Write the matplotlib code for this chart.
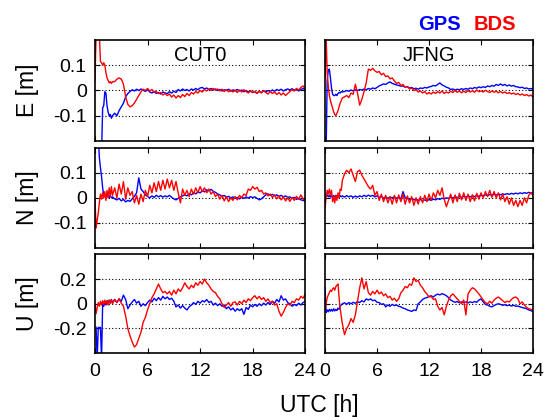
# GPS vs BDS position error time series, two stations
import numpy as np
import matplotlib
matplotlib.use("Agg")
import matplotlib.pyplot as plt

plt.rcParams['font.family'] = ['Liberation Sans', 'DejaVu Sans']

nan = np.nan

# time axis [h]: finer in the first two hours, then every 15 min
t_head = np.arange(0, 2.0001, 0.125)
t_body = np.arange(2.25, 24.0001, 0.25)
utc = np.concatenate([t_head, t_body])

stations = ['CUT0', 'JFNG']
components = ['E [m]', 'N [m]', 'U [m]']
ylims = [0.2, 0.2, 0.4]
yticks = [[-0.1, 0, 0.1], [-0.1, 0, 0.1], [-0.2, 0, 0.2]]
yticklabels = [['-0.1', '0', '0.1'], ['-0.1', '0', '0.1'], ['-0.2', '0', '0.2']]
xticks = [0, 6, 12, 18, 24]

# ---- CUT0 ----
cut0_e_gps = [nan, nan, nan, nan, nan, nan, -0.25, -0.07, -0.06, -0.005, -0.01, -0.06, -0.085, -0.1, -0.095, -0.11, -0.1,
              -0.09, -0.1, -0.08, -0.065, -0.05, -0.025, -0.012, -0.004,
              0.003, -0.002, 0.005, 0.0, 0.006, 0.002, -0.004, 0.003,
              -0.006, -0.01, -0.004, -0.012, -0.008, -0.014, -0.006, -0.01,
              -0.012, -0.005, -0.01, -0.003, -0.008, 0.004, -0.002, 0.006,
              0.0, 0.004, -0.002, 0.006, 0.002, 0.008, 0.003, 0.01,
              0.012, 0.006, 0.01, 0.004, 0.008, 0.002, 0.006, 0.0,
              0.004, -0.002, 0.003, 0.0, 0.005, -0.003, 0.002, 0.0,
              0.004, -0.002, 0.002, -0.005, 0.0, -0.006, -0.003, -0.008,
              -0.005, -0.01, -0.004, -0.008, -0.002, -0.006, 0.0, -0.004,
              0.002, -0.003, 0.004, 0.0, 0.005, -0.002, 0.003, 0.006,
              0.002, 0.007, 0.001, 0.005, -0.002, 0.004, 0.008, 0.003]
cut0_e_bds = [0.04, 0.22, 0.22, 0.22, 0.22, 0.115, 0.11, 0.1, 0.11, 0.1, 0.07, 0.05, 0.04, 0.03, 0.035, 0.028, 0.035,
              0.035, 0.045, 0.05, 0.045, 0.025, -0.025, -0.055, -0.065,
              -0.06, -0.05, -0.035, -0.02, -0.005, 0.005, 0.0, 0.008,
              -0.002, 0.004, -0.008, -0.004, -0.012, -0.008, -0.018, -0.012,
              -0.02, -0.014, -0.026, -0.018, -0.03, -0.02, -0.028, -0.016,
              -0.024, -0.012, -0.02, -0.008, -0.014, -0.004, -0.01, 0.0,
              -0.006, 0.004, -0.002, 0.006, 0.0, 0.008, 0.002, 0.006,
              -0.002, 0.005, -0.004, 0.003, -0.005, 0.002, -0.006, 0.0,
              -0.008, 0.002, -0.006, 0.003, -0.004, -0.01, 0.0, -0.008,
              -0.004, -0.012, -0.002, -0.01, 0.0, -0.008, -0.014, -0.004,
              -0.012, -0.006, -0.016, -0.008, -0.018, -0.01, -0.02, -0.012,
              -0.004, 0.004, -0.002, 0.008, 0.002, 0.012, 0.018, 0.006]
cut0_n_gps = [nan, 0.25, 0.25, 0.25, 0.16, 0.12, 0.085, 0.04, 0.012, 0.008, 0.012, 0.004, 0.01, 0.002, 0.008, 0.0, 0.004,
              -0.004, -0.008, -0.002, -0.012, -0.006, -0.016, -0.01, -0.014,
              -0.004, 0.006, 0.02, 0.08, 0.035, 0.025, 0.012, 0.006,
              0.0, 0.008, 0.002, 0.01, 0.004, 0.009, 0.003, 0.008,
              0.004, 0.01, 0.002, -0.004, -0.008, -0.002, 0.004, 0.008,
              0.012, 0.008, 0.016, 0.012, 0.02, 0.016, 0.024, 0.02,
              0.028, 0.024, 0.032, 0.028, 0.034, 0.026, 0.022, 0.016,
              0.012, 0.006, 0.01, 0.003, 0.006, 0.0, 0.004, -0.002,
              0.002, -0.004, 0.003, -0.002, 0.004, -0.001, 0.005, 0.001,
              0.004, -0.002, -0.008, -0.004, 0.004, 0.012, 0.016, 0.01,
              0.014, 0.008, 0.012, 0.006, 0.01, 0.004, 0.008, 0.002,
              0.004, -0.002, 0.002, -0.006, -0.002, -0.008, -0.01, -0.014]
cut0_n_bds = [0.0, -0.12, -0.09, -0.06, -0.02, 0.015, -0.005, 0.02, 0.0, 0.025, -0.01, 0.03, 0.0, 0.04, 0.005, 0.045, 0.01,
              0.04, 0.0, 0.055, 0.015, 0.065, -0.005, 0.04, 0.01,
              0.025, -0.02, 0.01, -0.025, 0.015, -0.015, 0.03, 0.005,
              0.05, 0.02, 0.06, 0.025, 0.065, 0.03, 0.07, 0.035,
              0.075, 0.04, 0.07, 0.03, 0.065, 0.02, -0.02, 0.035,
              0.01, 0.03, 0.005, 0.035, 0.015, 0.04, 0.02, 0.045,
              0.025, 0.04, 0.02, 0.035, 0.015, 0.025, 0.005, 0.015,
              -0.005, 0.01, -0.012, 0.005, -0.015, 0.0, -0.01, 0.005,
              -0.008, 0.01, 0.0, 0.015, 0.01, 0.035, 0.03, 0.045,
              0.035, 0.042, 0.025, 0.03, 0.015, 0.02, 0.008, 0.015,
              0.002, 0.012, -0.004, 0.008, -0.008, 0.004, -0.012, 0.0,
              -0.014, 0.002, -0.01, 0.006, -0.006, 0.012, -0.004, -0.01]
cut0_u_gps = [nan, -0.19, -0.45, -0.19, -0.2, -0.19, -0.45, 0.0, -0.02, 0.015, -0.01, 0.025, 0.0, 0.03, 0.005, 0.035, 0.01,
              0.035, 0.01, 0.04, 0.02, 0.07, 0.035, -0.04, -0.01,
              0.015, 0.035, 0.005, 0.02, -0.02, 0.0, -0.015, 0.01,
              0.03, 0.015, 0.045, 0.025, 0.05, 0.03, 0.06, 0.04,
              0.055, 0.035, 0.045, 0.02, -0.025, -0.01, -0.035, -0.015,
              -0.035, -0.05, -0.025, -0.01, 0.01, -0.005, 0.02, 0.005,
              0.025, 0.015, 0.035, 0.01, 0.02, -0.01, 0.005, -0.015,
              0.0, -0.02, -0.01, -0.04, -0.025, -0.05, -0.035, -0.06,
              -0.04, -0.055, -0.04, -0.085, -0.03, -0.045, -0.01, -0.025,
              -0.005, -0.02, 0.0, -0.015, 0.005, -0.01, 0.01, -0.005,
              0.02, 0.005, 0.035, 0.015, 0.065, 0.03, 0.04, 0.01,
              0.0, -0.02, -0.005, -0.015, 0.005, -0.01, 0.01, 0.02]
cut0_u_bds = [0.0, -0.08, -0.03, 0.01, -0.02, 0.02, -0.01, 0.025, -0.005, 0.03, 0.0, 0.025, -0.01, 0.03, 0.005, 0.03, 0.0,
              0.035, 0.01, 0.04, 0.005, -0.02, -0.1, -0.2, -0.26,
              -0.31, -0.35, -0.33, -0.28, -0.23, -0.15, -0.11, -0.05,
              0.0, 0.05, 0.08, 0.12, 0.16, 0.12, 0.09, 0.1,
              0.08, 0.1, 0.07, 0.11, 0.08, 0.12, 0.1, 0.13,
              0.17, 0.14, 0.12, 0.15, 0.13, 0.17, 0.15, 0.18,
              0.16, 0.2, 0.17, 0.15, 0.12, 0.1, 0.09, 0.06,
              0.04, 0.0, -0.03, -0.01, 0.01, -0.02, 0.01, 0.015,
              -0.01, 0.02, 0.0, 0.03, 0.01, 0.04, 0.025, 0.05,
              0.065, 0.04, 0.06, 0.035, 0.05, 0.02, 0.04, 0.01,
              0.02, -0.01, 0.0, -0.06, -0.1, -0.07, -0.03, 0.0,
              -0.01, 0.02, 0.01, 0.04, 0.03, 0.06, 0.045, 0.08]

# ---- JFNG ----
jfng_e_gps = [nan, -0.25, 0.04, 0.08, 0.085, 0.05, 0.01, -0.015, -0.02, -0.02, -0.015, -0.02, -0.012, -0.008, -0.01, -0.004, -0.006,
              -0.004, 0.0, -0.003, 0.002, -0.002, 0.003, 0.0, 0.004,
              0.002, 0.006, 0.003, 0.008, 0.005, 0.01, 0.007, 0.012,
              0.018, 0.022, 0.026, 0.024, 0.03, 0.034, 0.028, 0.025,
              0.022, 0.02, 0.017, 0.018, 0.013, 0.015, 0.01, 0.012,
              0.007, 0.009, 0.005, 0.01, 0.008, 0.012, 0.01, 0.014,
              0.016, 0.02, 0.018, 0.024, 0.03, 0.022, 0.018, 0.013,
              0.01, 0.004, 0.006, 0.002, 0.005, 0.003, 0.007, 0.004,
              0.008, 0.005, 0.01, 0.007, 0.012, 0.009, 0.014, 0.011,
              0.015, 0.012, 0.018, 0.015, 0.02, 0.017, 0.024, 0.02,
              0.026, 0.02, 0.024, 0.018, 0.022, 0.017, 0.02, 0.015,
              0.014, 0.011, 0.013, 0.008, 0.01, 0.006, 0.008, 0.004]
jfng_e_bds = [0.05, 0.22, 0.07, 0.02, -0.02, -0.04, -0.055, -0.07, -0.085, -0.095, -0.1, -0.09, -0.08, -0.065, -0.05, -0.04, -0.03,
              -0.025, -0.02, -0.028, -0.01, -0.015, 0.025, -0.01, -0.058,
              -0.035, -0.005, 0.03, 0.085, 0.08, 0.088, 0.078, 0.072,
              0.075, 0.062, 0.068, 0.055, 0.058, 0.046, 0.05, 0.038,
              0.028, 0.032, 0.02, 0.024, 0.012, 0.016, 0.006, 0.01,
              0.0, 0.004, -0.006, -0.002, -0.01, -0.004, -0.014, -0.008,
              -0.014, -0.006, -0.012, -0.004, -0.01, -0.002, -0.012, -0.006,
              -0.01, -0.003, -0.008, 0.0, -0.007, -0.002, -0.009, -0.003,
              -0.008, 0.0, -0.006, -0.001, -0.007, 0.002, -0.005, -0.002,
              -0.006, 0.001, -0.004, -0.008, -0.002, -0.007, -0.003, -0.009,
              -0.004, -0.01, -0.006, -0.012, -0.008, -0.014, -0.01, -0.016,
              -0.012, -0.018, -0.014, -0.02, -0.016, -0.022, -0.018, -0.026]
jfng_n_gps = [0.01, 0.005, 0.012, 0.004, 0.01, 0.003, 0.008, 0.002, 0.009, 0.004, 0.01, 0.005, 0.008, 0.003, 0.009, 0.004, 0.008,
              0.003, 0.009, 0.004, 0.008, 0.002, 0.007, 0.003, 0.008,
              0.004, 0.01, 0.005, 0.011, 0.006, 0.01, 0.004, 0.008,
              0.002, 0.006, -0.001, 0.004, -0.002, 0.003, 0.0, 0.004,
              -0.002, 0.002, -0.004, 0.025, 0.0, -0.003, -0.006, -0.002,
              -0.008, -0.004, -0.01, -0.006, -0.012, -0.008, -0.012, -0.007,
              -0.01, -0.005, -0.008, -0.003, -0.006, -0.001, -0.004, 0.0,
              -0.002, 0.002, 0.0, 0.004, 0.001, 0.005, 0.002, 0.006,
              0.003, 0.007, 0.004, 0.008, 0.005, 0.009, 0.006, 0.01,
              0.008, 0.012, 0.009, 0.013, 0.01, 0.014, 0.011, 0.015,
              0.012, 0.016, 0.013, 0.017, 0.014, 0.018, 0.015, 0.019,
              0.016, 0.02, 0.017, 0.021, 0.018, 0.022, 0.019, 0.021]
jfng_n_bds = [-0.04, 0.0, 0.03, 0.015, 0.035, 0.01, 0.03, -0.015, 0.005, -0.02, 0.01, -0.01, 0.02, 0.0, 0.035, 0.03, 0.07,
              0.095, 0.11, 0.1, 0.115, 0.09, 0.065, 0.105, 0.11,
              0.09, 0.075, 0.06, 0.045, 0.035, 0.05, 0.01, 0.025,
              -0.01, 0.015, -0.015, 0.01, -0.02, 0.005, -0.025, 0.01,
              -0.02, 0.012, -0.015, 0.015, -0.025, 0.008, -0.02, 0.005,
              -0.03, 0.0, -0.025, 0.005, -0.02, 0.01, -0.015, 0.015,
              -0.01, 0.02, 0.0, 0.03, 0.01, 0.04, -0.005, -0.035,
              -0.01, 0.015, -0.02, 0.012, -0.015, 0.018, -0.008, 0.02,
              -0.01, 0.015, -0.015, 0.012, -0.012, 0.018, -0.005, 0.02,
              0.0, 0.025, 0.005, 0.03, 0.002, 0.025, 0.0, 0.02,
              -0.008, 0.015, -0.015, 0.005, -0.025, 0.0, -0.03, -0.01,
              -0.035, -0.01, -0.03, 0.0, -0.02, 0.01, 0.02, 0.01]
jfng_u_gps = [0.13, -0.07, -0.05, -0.065, -0.045, -0.06, -0.045, -0.06, -0.04, -0.058, -0.045, -0.055, -0.035, -0.045, -0.02, -0.01, 0.0,
              0.008, -0.004, 0.01, 0.0, 0.012, 0.004, 0.018, 0.01,
              0.025, 0.015, 0.04, 0.03, 0.04, 0.025, 0.03, 0.012,
              0.01, -0.005, 0.0, -0.025, -0.01, -0.02, -0.005, -0.015,
              -0.01, -0.02, -0.025, -0.035, -0.04, -0.05, -0.055, -0.062,
              -0.05, -0.055, 0.0, 0.015, 0.035, 0.045, 0.05, 0.06,
              0.065, 0.055, 0.07, 0.078, 0.072, 0.082, 0.075, 0.065,
              0.05, 0.03, 0.02, 0.012, 0.018, 0.008, 0.015, 0.01,
              0.016, 0.008, 0.015, 0.01, 0.018, 0.012, 0.03, 0.04,
              0.015, -0.005, -0.01, -0.02, -0.025, -0.015, -0.005, 0.0,
              -0.005, -0.012, -0.008, -0.015, -0.01, -0.018, -0.012, -0.02,
              -0.018, -0.025, -0.03, -0.035, -0.04, -0.05, -0.055, -0.065]
jfng_u_bds = [-0.05, 0.0, 0.05, 0.07, 0.09, 0.11, 0.1, 0.12, 0.13, 0.11, 0.14, 0.15, 0.16, 0.05, -0.04, -0.1, -0.16,
              -0.25, -0.2, -0.17, -0.12, -0.15, -0.09, 0.02, 0.13,
              0.21, 0.12, 0.18, 0.09, 0.07, 0.1, 0.08, 0.11,
              0.08, 0.095, 0.065, 0.08, 0.05, 0.06, 0.03, 0.045,
              0.02, 0.04, 0.09, 0.11, 0.14, 0.13, 0.16, 0.15,
              0.21, 0.18, 0.19, 0.15, 0.13, 0.1, 0.08, 0.055,
              0.06, 0.035, 0.04, -0.02, -0.05, -0.03, -0.09, -0.02,
              0.03, 0.065, 0.08, 0.06, 0.04, 0.02, 0.0, 0.03,
              -0.09, 0.08, 0.11, 0.13, 0.12, 0.1, 0.08, 0.055,
              0.03, 0.01, 0.0, 0.02, 0.005, 0.03, 0.045, 0.055,
              0.04, 0.025, 0.01, 0.02, 0.015, 0.035, 0.05, 0.055,
              0.04, 0.0, 0.015, -0.01, -0.03, -0.04, -0.045, -0.055]

gps_series = [[cut0_e_gps, jfng_e_gps], [cut0_n_gps, jfng_n_gps], [cut0_u_gps, jfng_u_gps]]
bds_series = [[cut0_e_bds, jfng_e_bds], [cut0_n_bds, jfng_n_bds], [cut0_u_bds, jfng_u_bds]]

fig = plt.figure(figsize=(5.49, 4.17), dpi=100)

col_left = [0.173, 0.592]
col_width = [0.383, 0.379]
row_bottom = [0.662, 0.405, 0.153]
row_height = [0.242, 0.241, 0.237]

for r in range(3):
    for c in range(2):
        ax = fig.add_axes([col_left[c], row_bottom[r], col_width[c], row_height[r]])
        ax.plot(utc, gps_series[r][c], color='#0000ff', lw=1.0)
        ax.plot(utc, bds_series[r][c], color='#ff0000', lw=1.0)
        ax.set_xlim(0, 24)
        ax.set_ylim(-ylims[r], ylims[r])
        ax.set_xticks(xticks)
        ax.set_yticks(yticks[r])
        for yv in yticks[r]:
            ax.axhline(yv, color='black', lw=0.8, ls=(0, (1, 2)), zorder=0)
        ax.tick_params(direction='in', top=True, right=True, length=3.5, width=0.8,
                       labelsize=14)
        ax.tick_params(axis='x', pad=7)
        ax.tick_params(axis='y', pad=6)
        for sp in ax.spines.values():
            sp.set_linewidth(1.2)
        if c == 0:
            ax.set_yticklabels(yticklabels[r])
            ax.set_ylabel(components[r], fontsize=16.5, labelpad=10)
        else:
            ax.set_yticklabels([])
        if r == 2:
            ax.set_xticklabels([str(v) for v in xticks])
        else:
            ax.set_xticklabels([])
        if r == 0:
            ax.text(0.5, 0.94, stations[c], transform=ax.transAxes, ha='center', va='top',
                    fontsize=14.5)

fig.text(0.581, 0.012, 'UTC [h]', ha='center', va='baseline', fontsize=16.5)
fig.text(0.761, 0.928, 'GPS', color='#0000ff', fontsize=14.5, fontweight='bold', ha='left', va='baseline')
fig.text(0.862, 0.928, 'BDS', color='#ff0000', fontsize=14.5, fontweight='bold', ha='left', va='baseline')

fig.savefig('out.png', dpi=100)
